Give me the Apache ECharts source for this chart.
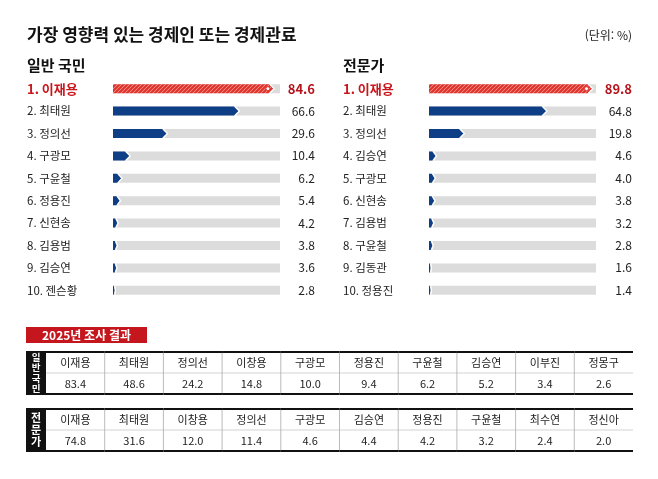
<!DOCTYPE html>
<html lang="ko">
<head>
    <meta charset="utf-8">
    <title>가장 영향력 있는 경제인 또는 경제관료</title>
    <script src="https://cdn.jsdelivr.net/npm/echarts@6/dist/echarts.min.js"></script>
    <style>
        body { margin: 0; background: #fff; }
    </style>
</head>
<body>
<div id="main" style="width: 658px;height:479px;"></div>
<script type="text/javascript">
    // 막대 그래프 데이터 (단위: %)
    var publicNames = ['이재용', '최태원', '정의선', '구광모', '구윤철', '정용진', '신현송', '김용범', '김승연', '젠슨황'];
    var publicValues = [84.6, 66.6, 29.6, 10.4, 6.2, 5.4, 4.2, 3.8, 3.6, 2.8];
    var expertNames = ['이재용', '최태원', '정의선', '김승연', '구광모', '신현송', '김용범', '구윤철', '김동관', '정용진'];
    var expertValues = [89.8, 64.8, 19.8, 4.6, 4.0, 3.8, 3.2, 2.8, 1.6, 1.4];

    // 2025년 조사 결과 표
    var pubTableNames = ['이재용', '최태원', '정의선', '이창용', '구광모', '정용진', '구윤철', '김승연', '이부진', '정몽구'];
    var pubTableValues = [83.4, 48.6, 24.2, 14.8, 10.0, 9.4, 6.2, 5.2, 3.4, 2.6];
    var expTableNames = ['이재용', '최태원', '이창용', '정의선', '구광모', '김승연', '정용진', '구윤철', '최수연', '정신아'];
    var expTableValues = [74.8, 31.6, 12.0, 11.4, 4.6, 4.4, 4.2, 3.2, 2.4, 2.0];

    var FONT = "'Noto Sans CJK KR', 'Noto Sans', sans-serif";
    var RED = '#c8161d';
    var BLUE = '#0e3f86';

    var myChart = echarts.init(document.getElementById('main'));

    // 1위 막대용 빗금 패턴
    var pc = document.createElement('canvas');
    pc.width = 4; pc.height = 4;
    var g = pc.getContext('2d');
    g.fillStyle = '#f4a9a0';
    g.fillRect(0, 0, 4, 4);
    g.strokeStyle = '#e0302a';
    g.lineWidth = 2.2;
    g.beginPath();
    g.moveTo(-1, 5); g.lineTo(5, -1);
    g.moveTo(-1, 1); g.lineTo(1, -1);
    g.moveTo(3, 5); g.lineTo(5, 3);
    g.stroke();
    var hatch = { type: 'pattern', image: pc, repeat: 'repeat' };

    function barRender(axisMin, axisMax) {
        return function (params, api) {
            var idx = api.value(0), val = api.value(1);
            var s = api.coord([axisMin, idx]);
            var e = api.coord([val, idx]);
            var t = api.coord([axisMax, idx]);
            var h = 9, y = s[1], x0 = s[0];
            var x1 = Math.max(e[0], x0 + 1.5);
            var tip = Math.min(h / 2, (x1 - x0) / 2);
            var kids = [
                { type: 'rect', shape: { x: x0, y: y - h / 2, width: t[0] - x0, height: h }, style: { fill: '#dcdcdc' } },
                { type: 'polygon', shape: { points: [[x0, y - h / 2], [x1 - tip, y - h / 2], [x1, y], [x1 - tip, y + h / 2], [x0, y + h / 2]] },
                    style: { fill: idx === 0 ? hatch : BLUE } },
                { type: 'polyline', shape: { points: [[x1 - tip + 1, y - h / 2], [x1 + 1, y], [x1 - tip + 1, y + h / 2]] },
                    style: { stroke: '#fff', lineWidth: 1.2, fill: null } }
            ];
            if (idx === 0) {
                kids.push({ type: 'circle', shape: { cx: x1 - h / 2 - 1, cy: y, r: 2 }, style: { fill: '#fff', stroke: '#e2332a', lineWidth: 1 } });
            }
            return { type: 'group', children: kids };
        };
    }

    function tableRender(names) {
        return function (params, api) {
            var i = api.value(0), v = api.value(1);
            var pn = api.coord([i, 0]), pv = api.coord([i, 1]);
            var sz = api.size([1, 1]);
            var bw = sz[0], bh = sz[1];
            var xl = pn[0] - bw / 2, xr = pn[0] + bw / 2;
            var yt = pn[1] - bh / 2, ym = pn[1] + bh / 2, yb = pv[1] + bh / 2;
            var kids = [
                { type: 'line', shape: { x1: xl, y1: ym, x2: xr, y2: ym }, style: { stroke: '#c8c8c8', lineWidth: 0.8 } },
                { type: 'line', shape: { x1: xl, y1: yt, x2: xr, y2: yt }, style: { stroke: '#111', lineWidth: 2 } },
                { type: 'line', shape: { x1: xl, y1: yb, x2: xr, y2: yb }, style: { stroke: '#111', lineWidth: 2 } },
                { type: 'text', x: pn[0], y: pn[1] + 0.5, style: { text: names[i], font: '11px ' + FONT, fill: '#222', textAlign: 'center', textVerticalAlign: 'middle' } },
                { type: 'text', x: pv[0], y: pv[1], style: { text: v.toFixed(1), font: '11px ' + FONT, fill: '#222', textAlign: 'center', textVerticalAlign: 'middle' } }
            ];
            if (i > 0) {
                kids.push({ type: 'line', shape: { x1: xl, y1: yt + 1, x2: xl, y2: yb - 1 }, style: { stroke: '#aaa', lineWidth: 0.8 } });
            }
            return { type: 'group', children: kids };
        };
    }

    function nameAxis(grid, names, margin) {
        return {
            type: 'category', gridIndex: grid, data: names, inverse: true,
            axisLine: { show: false }, axisTick: { show: false },
            axisLabel: {
                interval: 0, align: 'left', margin: margin,
                fontFamily: FONT, fontSize: 11.5, color: '#222',
                formatter: function (v, i) {
                    return i === 0 ? '{top|1. ' + v + '}' : (i + 1) + '. ' + v;
                },
                rich: { top: { fontFamily: FONT, fontSize: 13, fontWeight: 'bold', color: RED } }
            }
        };
    }

    function valueAxis(grid, values, margin) {
        return {
            type: 'category', gridIndex: grid, position: 'right', inverse: true,
            data: values.map(function (v) { return v.toFixed(1); }),
            axisLine: { show: false }, axisTick: { show: false },
            axisLabel: {
                interval: 0, align: 'right', margin: margin,
                fontFamily: FONT, fontSize: 12, color: '#222',
                formatter: function (v, i) { return i === 0 ? '{top|' + v + '}' : v; },
                rich: { top: { fontFamily: FONT, fontSize: 13, fontWeight: 'bold', color: '#b5121b' } }
            }
        };
    }

    function txt(x, y, text, font, fill, align) {
        return { type: 'text', x: x, y: y, style: { text: text, font: font, fill: fill || '#111', textAlign: align || 'left', textVerticalAlign: 'middle' } };
    }

    option = {
        animation: false,
        backgroundColor: '#fff',
        grid: [
            { left: 113, top: 77.5, width: 167, height: 224 },
            { left: 429, top: 77.5, width: 167, height: 224 },
            { left: 46, top: 352, width: 587, height: 42 },
            { left: 46, top: 409, width: 587, height: 42 }
        ],
        xAxis: [
            { type: 'value', gridIndex: 0, min: 2, max: 88, show: false },
            { type: 'value', gridIndex: 1, min: 1, max: 92, show: false },
            { type: 'category', gridIndex: 2, data: pubTableNames, show: false },
            { type: 'category', gridIndex: 3, data: expTableNames, show: false }
        ],
        yAxis: [
            nameAxis(0, publicNames, 86),
            valueAxis(0, publicValues, 35),
            nameAxis(1, expertNames, 86),
            valueAxis(1, expertValues, 36),
            { type: 'category', gridIndex: 2, data: ['이름', '값'], inverse: true, show: false },
            { type: 'category', gridIndex: 3, data: ['이름', '값'], inverse: true, show: false }
        ],
        graphic: [
            txt(27, 35, '가장 영향력 있는 경제인 또는 경제관료', 'bold 17px ' + FONT),
            txt(632, 35.5, '(단위: %)', '12px ' + FONT, '#222', 'right'),
            txt(27, 65, '일반 국민', 'bold 15px ' + FONT),
            txt(343, 65, '전문가', 'bold 15px ' + FONT),
            { type: 'rect', shape: { x: 26, y: 327, width: 121, height: 16 }, style: { fill: '#c4161c' } },
            txt(86.5, 335, '2025년 조사 결과', 'bold 12px ' + FONT, '#fff', 'center'),
            { type: 'rect', shape: { x: 26, y: 351, width: 20, height: 44 }, style: { fill: '#111' } },
            { type: 'text', x: 36, y: 373, style: { text: '일\n반\n국\n민', font: 'bold 9.5px ' + FONT, lineHeight: 10.5, fill: '#fff', textAlign: 'center', textVerticalAlign: 'middle' } },
            { type: 'rect', shape: { x: 26, y: 408, width: 20, height: 44 }, style: { fill: '#111' } },
            { type: 'text', x: 36, y: 430, style: { text: '전\n문\n가', font: 'bold 11px ' + FONT, lineHeight: 12, fill: '#fff', textAlign: 'center', textVerticalAlign: 'middle' } }
        ],
        series: [
            {
                type: 'custom', xAxisIndex: 0, yAxisIndex: 0,
                renderItem: barRender(2, 88),
                encode: { x: 1, y: 0 },
                data: publicValues.map(function (v, i) { return [i, v]; })
            },
            {
                type: 'custom', xAxisIndex: 1, yAxisIndex: 2,
                renderItem: barRender(1, 92),
                encode: { x: 1, y: 0 },
                data: expertValues.map(function (v, i) { return [i, v]; })
            },
            {
                type: 'custom', xAxisIndex: 2, yAxisIndex: 4,
                renderItem: tableRender(pubTableNames),
                encode: { x: 0, y: -1 },
                data: pubTableValues.map(function (v, i) { return [i, v]; })
            },
            {
                type: 'custom', xAxisIndex: 3, yAxisIndex: 5,
                renderItem: tableRender(expTableNames),
                encode: { x: 0, y: -1 },
                data: expTableValues.map(function (v, i) { return [i, v]; })
            }
        ]
    };
    myChart.setOption(option);
</script>
</body>
</html>
